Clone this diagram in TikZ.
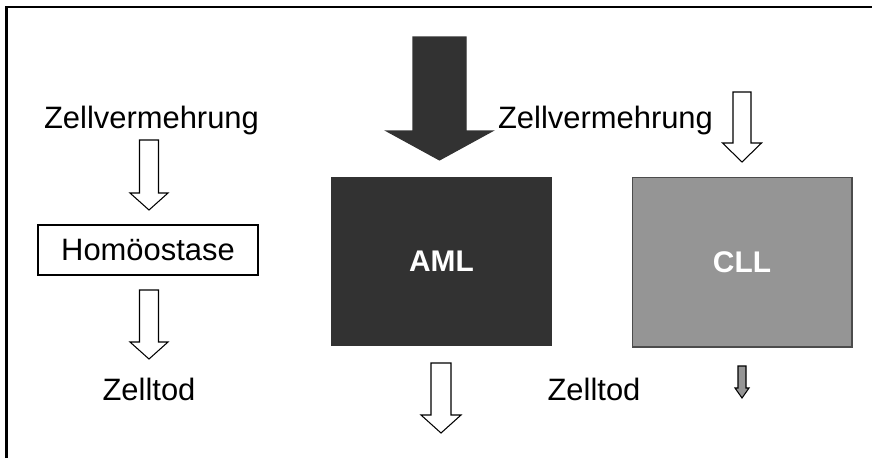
\documentclass[tikz,border=0pt]{standalone}
\usepackage{fontspec}
\setmainfont{Liberation Sans}
\definecolor{amlfill}{RGB}{50,50,50}
\definecolor{cllfill}{RGB}{149,149,149}

% block arrow pointing down: [style]{x}{top}{head base}{tip}{half shaft}{half head}
\newcommand{\blockarrow}[7][]{
    \draw[#1] (#2-#6, #3) -- (#2+#6, #3) -- (#2+#6, #4) -- (#2+#7, #4)
      -- (#2, #5) -- (#2-#7, #4) -- (#2-#6, #4) -- cycle;
  }

\begin{document}
\begin{tikzpicture}[x=0.02cm, y=-0.02cm,
    label/.style={font=\fontsize{17.6}{21}\selectfont, inner sep=0pt},
    hollow/.style={draw=black, fill=white, line width=0.6pt},
    cellbox/.style={minimum width=4.4cm, font=\fontsize{17}{20}\selectfont\bfseries, text=white, line width=0.6pt}]
    \useasboundingbox (0, 0) rectangle (872, 458);
    % frame, cut off at the right and at the bottom
    \draw[line width=1.2pt] (6.5, 458) -- (6.5, 7) -- (872, 7);
    % normal cells
    \node[label, anchor=base] (growthA) at (151.5, 128) {Zellvermehrung};
    \node[draw, line width=0.6pt, minimum width=4.4cm, minimum height=1cm, font=\fontsize{17.6}{21}\selectfont] (homeo) at (148, 250) {Homöostase};
    \node[label, anchor=base] (deathA) at (149, 400) {Zelltod};
    \blockarrow[hollow]{149}{140}{193}{210}{9.5}{19}
    \blockarrow[hollow]{149}{290}{342}{359}{9.5}{19}
    % AML
    \node[cellbox, fill=amlfill, draw=amlfill, minimum height=3.36cm] (aml) at (441.5, 261) {AML};
    \blockarrow[fill=amlfill, draw=amlfill, line width=0.6pt]{439.5}{37}{131}{160}{26.5}{53}
    \blockarrow[hollow]{441}{363}{415}{433}{10}{20}
    % CLL
    \node[label, anchor=base] (growthB) at (605.5, 128) {Zellvermehrung};
    \node[cellbox, fill=cllfill, draw=black!70, minimum height=3.4cm] (cll) at (742, 262) {CLL};
    \node[label, anchor=base] (deathB) at (594, 400) {Zelltod};
    \blockarrow[hollow]{742}{92}{143}{162}{9}{19.5}
    \blockarrow[draw=black, fill=cllfill, line width=0.6pt]{742}{366}{388}{398}{4}{7}
  \end{tikzpicture}
\end{document}
